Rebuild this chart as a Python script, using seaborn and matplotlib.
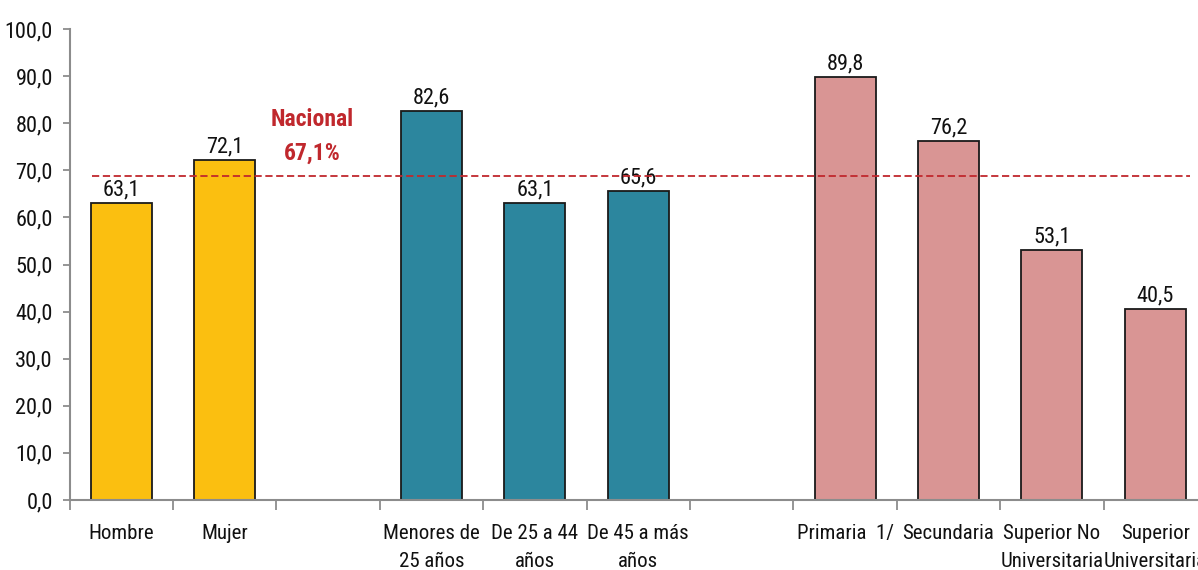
import numpy as np
import pandas as pd
import matplotlib
matplotlib.use("Agg")
import matplotlib.pyplot as plt
import seaborn as sns
from matplotlib import font_manager

categories = ["Hombre", "Mujer", "gap1", "Menores de\n25 años", "De 25 a 44\naños",
              "De 45 a más\naños", "gap2", "Primaria  1/", "Secundaria",
              "Superior No\nUniversitaria", "Superior\nUniversitaria"]
values = [63.1, 72.1, None, 82.6, 63.1, 65.6, None, 89.8, 76.2, 53.1, 40.5]
groups = ["Sexo", "Sexo", None, "Edad", "Edad", "Edad", None,
          "Educ", "Educ", "Educ", "Educ"]
palette = {"Sexo": "#FBBF10", "Edad": "#2C869E", "Educ": "#D99594"}
nacional_label = "Nacional\n67,1%"
nacional_line = 68.8
yticks = [0, 10, 20, 30, 40, 50, 60, 70, 80, 90, 100]

# pick a narrow font if one is installed
names = {f.name for f in font_manager.fontManager.ttflist}
narrow = "Roboto"
for cand in ["Liberation Sans Narrow", "Roboto Condensed", "Open Sans Condensed",
             "Noto Sans Condensed", "Arial Narrow"]:
    if cand in names:
        narrow = cand
        break
condensed = narrow != "Roboto"

sns.set_theme(style="white")
plt.rcParams["font.family"] = [narrow, "DejaVu Sans"]
fs = 16 if condensed else 13
xfs = 15 if condensed else 12.5

df = pd.DataFrame({"cat": categories, "val": values, "grp": groups}).dropna()

fig = plt.figure(figsize=(11.98, 5.70), dpi=100)
ax = fig.add_axes([69.5 / 1198, 70 / 570, 1137.5 / 1198, 471 / 570])

sns.barplot(data=df, x="cat", y="val", hue="grp", order=categories,
            palette=palette, saturation=1, dodge=False, width=0.59,
            edgecolor="#1a1a1a", linewidth=1.3, legend=False, ax=ax)

for c in ax.containers:
    ax.bar_label(c, labels=[f"{v:.1f}".replace(".", ",") for v in c.datavalues],
                 padding=2, fontsize=fs, color="#111111")

ax.axhline(nacional_line, xmin=0.02, xmax=0.985, color="#C0282D",
           linestyle=(0, (4, 2)), linewidth=1.3, zorder=5)
ax.text(1.845, 77.2, nacional_label, ha="center", va="center", color="#C0282D",
        fontsize=fs + 1, fontweight="bold", linespacing=1.55)

ax.set_xlim(-0.5, 10.5)
ax.set_ylim(0, 100)
ax.set_yticks(yticks)
ax.set_yticklabels([f"{v:.1f}".replace(".", ",") for v in yticks], fontsize=fs,
                   color="#111111")
ax.set_xticks(np.arange(-0.5, 11, 1))
ax.set_xticklabels([])
ax.set_xticks(range(len(categories)), minor=True)
ax.set_xticklabels([("" if c.startswith("gap") else c) for c in categories],
                   minor=True, fontsize=xfs, color="#111111", linespacing=1.6)
ax.tick_params(axis="x", which="major", length=7, width=1.3, color="#8c8c8c",
               direction="out", bottom=True)
ax.tick_params(axis="x", which="minor", length=0, pad=17, bottom=True)
ax.tick_params(axis="y", length=5, width=1.3, color="#8c8c8c", direction="out",
               left=True, pad=7)
ax.set_xlabel("")
ax.set_ylabel("")
for s in ["top", "right"]:
    ax.spines[s].set_visible(False)
for s in ["left", "bottom"]:
    ax.spines[s].set_color("#8c8c8c")
    ax.spines[s].set_linewidth(1.5)

fig.savefig("out.png", dpi=100)
